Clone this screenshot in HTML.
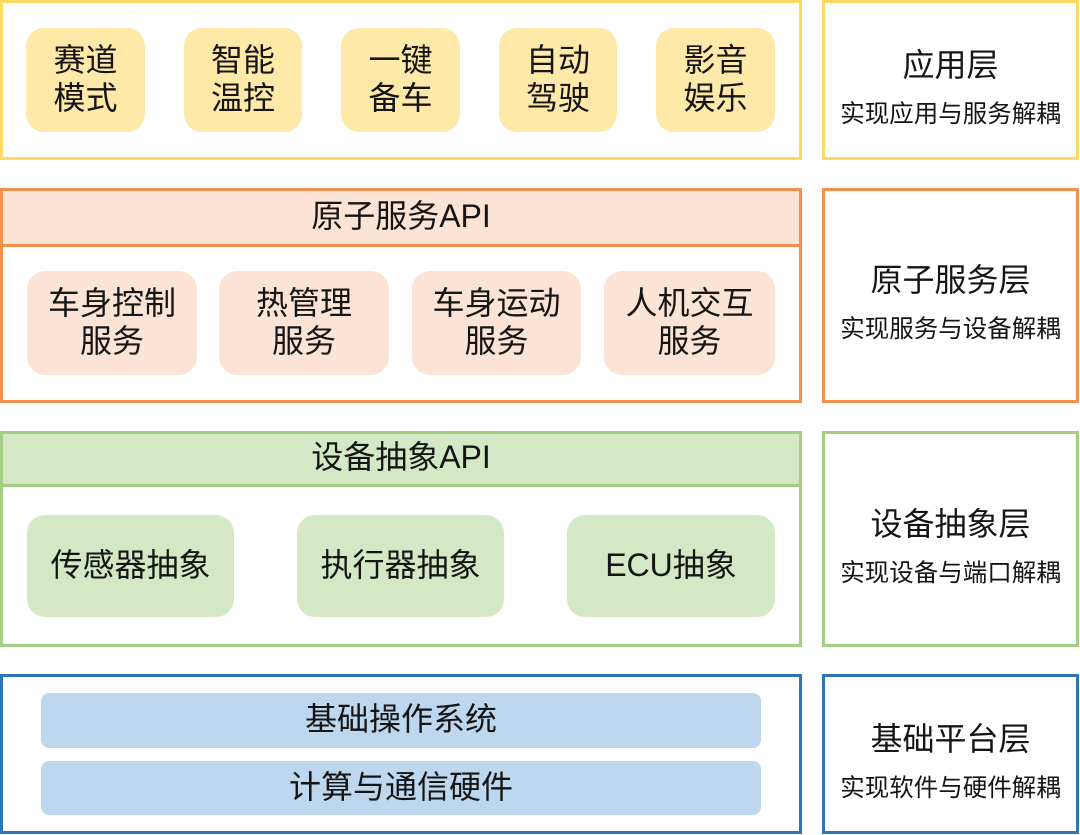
<!DOCTYPE html>
<html>
<head>
<meta charset="utf-8">
<style>
  html,body{margin:0;padding:0;background:#fff;}
  body{width:1080px;height:835px;position:relative;overflow:hidden;
    font-family:"Liberation Sans","Noto Sans CJK SC",sans-serif;color:#151515;}
  .box{position:absolute;box-sizing:border-box;border:3px solid;background:#fff;}
  .pill{position:absolute;box-sizing:border-box;display:flex;align-items:center;justify-content:center;
    text-align:center;font-size:32px;line-height:38px;padding-bottom:2px;}
  .hdr{position:absolute;left:0;right:0;top:0;box-sizing:border-box;border-bottom:3px solid;
    display:flex;align-items:center;justify-content:center;font-size:32px;line-height:38px;padding-bottom:4px;}
  .t{position:absolute;left:822px;width:257px;text-align:center;font-size:32px;line-height:38px;white-space:nowrap;}
  .s{position:absolute;left:822px;width:257px;text-align:center;font-size:24.5px;line-height:30px;white-space:nowrap;}
  .y{border-color:#FFD966;}
  .o{border-color:#F3904D;}
  .g{border-color:#A3CE84;}
  .b{border-color:#2E75B6;}
  .py{background:#FFE9A8;border-radius:18px;}
  .po{background:#FBE4D5;border-radius:18px;}
  .pg{background:#D5E8C5;border-radius:18px;}
  .pb{background:#BDD7EE;border-radius:8px;}
</style>
</head>
<body>
<!-- Application layer -->
<div class="box y" style="left:0;top:0;width:802px;height:160px;"></div>
<div class="pill py" style="left:26px;top:28px;width:119px;height:104px;">赛道<br>模式</div>
<div class="pill py" style="left:184px;top:28px;width:118px;height:104px;">智能<br>温控</div>
<div class="pill py" style="left:341px;top:28px;width:119px;height:104px;">一键<br>备车</div>
<div class="pill py" style="left:499px;top:28px;width:118px;height:104px;">自动<br>驾驶</div>
<div class="pill py" style="left:656px;top:28px;width:119px;height:104px;">影音<br>娱乐</div>

<div class="box y" style="left:822px;top:0;width:257px;height:160px;"></div>
<div class="t" style="top:45.5px;">应用层</div>
<div class="s" style="top:99.5px;">实现应用与服务解耦</div>

<!-- Atomic service layer -->
<div class="box o" style="left:0;top:188px;width:802px;height:215px;">
  <div class="hdr o" style="height:56px;background:#FBE4D5;">原子服务API</div>
</div>
<div class="pill po" style="left:27px;top:271px;width:170px;height:104px;">车身控制<br>服务</div>
<div class="pill po" style="left:219px;top:271px;width:170px;height:104px;">热管理<br>服务</div>
<div class="pill po" style="left:412px;top:271px;width:169px;height:104px;">车身运动<br>服务</div>
<div class="pill po" style="left:604px;top:271px;width:171px;height:104px;">人机交互<br>服务</div>

<div class="box o" style="left:822px;top:188px;width:257px;height:215px;"></div>
<div class="t" style="top:261px;">原子服务层</div>
<div class="s" style="top:315px;">实现服务与设备解耦</div>

<!-- Device abstraction layer -->
<div class="box g" style="left:0;top:431px;width:802px;height:216px;">
  <div class="hdr g" style="height:53px;background:#D5E8C5;">设备抽象API</div>
</div>
<div class="pill pg" style="left:27px;top:515px;width:207px;height:102px;">传感器抽象</div>
<div class="pill pg" style="left:297px;top:515px;width:207px;height:102px;">执行器抽象</div>
<div class="pill pg" style="left:567px;top:515px;width:208px;height:102px;">ECU抽象</div>

<div class="box g" style="left:822px;top:431px;width:257px;height:216px;"></div>
<div class="t" style="top:504.5px;">设备抽象层</div>
<div class="s" style="top:558.5px;">实现设备与端口解耦</div>

<!-- Base platform layer -->
<div class="box b" style="left:0;top:674px;width:802px;height:160px;"></div>
<div class="pill pb" style="left:41px;top:693px;width:720px;height:55px;padding-bottom:3px;">基础操作系统</div>
<div class="pill pb" style="left:41px;top:761px;width:720px;height:54px;padding-bottom:3px;">计算与通信硬件</div>

<div class="box b" style="left:822px;top:674px;width:257px;height:160px;"></div>
<div class="t" style="top:719.5px;">基础平台层</div>
<div class="s" style="top:773.5px;">实现软件与硬件解耦</div>
</body>
</html>
